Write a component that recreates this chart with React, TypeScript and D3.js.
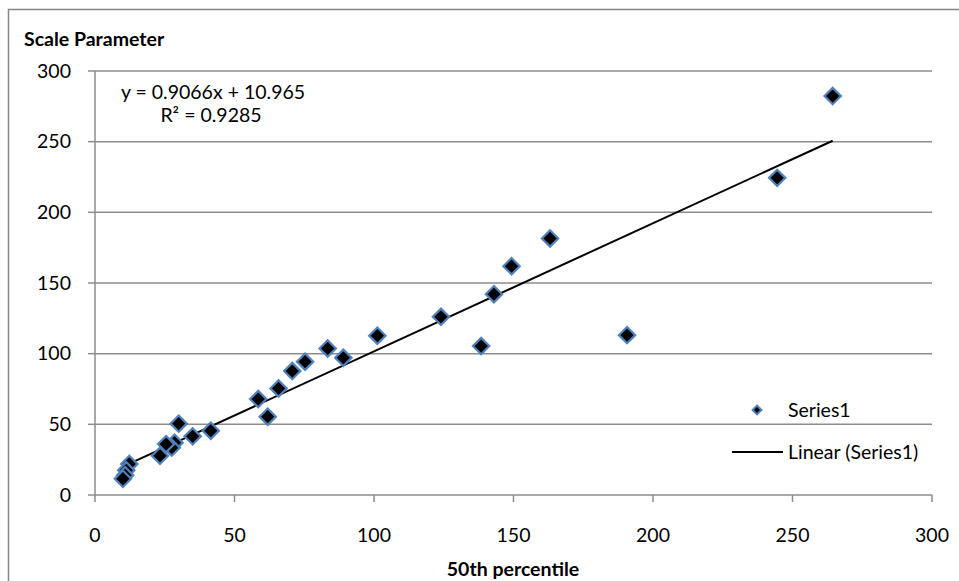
import React, { useEffect, useRef } from 'react';
import * as d3 from 'd3';

// 50th percentile vs. scale parameter
const pct50 = [264.4, 244.5, 190.7, 163.1, 149.3, 143.0, 138.4, 124.0, 101.2, 89.0, 83.4, 75.3, 70.7, 65.8, 61.9, 58.5, 41.5, 35.0, 30.0, 28.5, 27.5, 25.5, 23.3, 12.3, 11.2, 10.8, 10.0];
const scaleParam = [282.3, 224.4, 113.1, 181.5, 161.9, 142.1, 105.4, 126.1, 112.7, 97.1, 103.7, 94.3, 87.7, 75.4, 55.4, 67.9, 45.5, 41.5, 50.5, 37.0, 33.5, 36.0, 27.8, 22.0, 17.5, 14.0, 11.5];
const xTicks = [0, 50, 100, 150, 200, 250, 300];
const yTicks = [0, 50, 100, 150, 200, 250, 300];
const slope = 0.9066;
const intercept = 10.965;
const eqLabel = 'y = 0.9066x + 10.965';
const r2Label = 'R² = 0.9285';

const FONT = 'Lato, "Open Sans", sans-serif';
const FS = 19.5;
const GRID = '#8c8c8c';
const MARK_STROKE = '#4f81bd';

function App() {
  const ref = useRef<SVGSVGElement>(null);

  useEffect(() => {
    document.body.style.margin = '0';
    const svg = d3.select(ref.current);
    svg.selectAll('*').remove();

    const x = d3.scaleLinear().domain([0, 300]).range([95, 932]);
    const y = d3.scaleLinear().domain([0, 300]).range([495, 71]);

    // outer chart border
    svg.append('rect')
      .attr('x', 8.5).attr('y', 9.5).attr('width', 1000).attr('height', 1000)
      .attr('fill', 'white').attr('stroke', '#868686').attr('stroke-width', 1.5);

    // gridlines
    svg.append('g').selectAll('line').data(yTicks.filter(d => d > 0)).join('line')
      .attr('x1', x(0)).attr('x2', x(300))
      .attr('y1', d => y(d)).attr('y2', d => y(d))
      .attr('stroke', GRID).attr('stroke-width', 1.5);

    // y axis
    const yAxis = svg.append('g');
    yAxis.append('line').attr('x1', x(0)).attr('x2', x(0)).attr('y1', y(0)).attr('y2', y(300))
      .attr('stroke', GRID).attr('stroke-width', 1.5);
    yAxis.selectAll('line.tk').data(yTicks).join('line').attr('class', 'tk')
      .attr('x1', x(0) - 7).attr('x2', x(0)).attr('y1', d => y(d)).attr('y2', d => y(d))
      .attr('stroke', GRID).attr('stroke-width', 1.5);
    yAxis.selectAll('text').data(yTicks).join('text')
      .attr('x', 71).attr('y', d => y(d)).attr('dy', '0.35em')
      .attr('text-anchor', 'end').attr('font-family', FONT).attr('font-size', FS)
      .text(d => d);

    // x axis
    const xAxis = svg.append('g');
    xAxis.append('line').attr('x1', x(0)).attr('x2', x(300)).attr('y1', y(0)).attr('y2', y(0))
      .attr('stroke', GRID).attr('stroke-width', 1.5);
    xAxis.selectAll('line.tk').data(xTicks).join('line').attr('class', 'tk')
      .attr('x1', d => x(d)).attr('x2', d => x(d)).attr('y1', y(0)).attr('y2', y(0) + 7)
      .attr('stroke', GRID).attr('stroke-width', 1.5);
    xAxis.selectAll('text').data(xTicks).join('text')
      .attr('x', d => x(d)).attr('y', 535).attr('dy', '0.35em')
      .attr('text-anchor', 'middle').attr('font-family', FONT).attr('font-size', FS)
      .text(d => d);

    // titles
    svg.append('text').attr('x', 24).attr('y', 39).attr('dy', '0.35em')
      .attr('font-family', FONT).attr('font-weight', 'bold').attr('font-size', FS)
      .text('Scale Parameter');
    svg.append('text').attr('x', 513).attr('y', 569).attr('dy', '0.35em')
      .attr('text-anchor', 'middle')
      .attr('font-family', FONT).attr('font-weight', 'bold').attr('font-size', FS)
      .text('50th percentile');

    // trendline
    const ext = d3.extent(pct50) as [number, number];
    svg.append('path')
      .datum(ext)
      .attr('fill', 'none').attr('stroke', 'black').attr('stroke-width', 2)
      .attr('d', d3.line<number>().x(d => x(d)).y(d => y(slope * d + intercept)));

    // points
    const diamond = d3.symbol().type(d3.symbolDiamond2).size(170);
    svg.append('g').selectAll('path').data(pct50).join('path')
      .attr('transform', (d, i) => `translate(${x(d)},${y(scaleParam[i])})`)
      .attr('d', diamond())
      .attr('fill', 'black').attr('stroke', MARK_STROKE).attr('stroke-width', 2.2);

    // equation
    svg.append('text').attr('x', 213).attr('y', 92).attr('dy', '0.35em')
      .attr('text-anchor', 'middle').attr('font-family', FONT).attr('font-size', FS)
      .text(eqLabel);
    svg.append('text').attr('x', 211).attr('y', 115).attr('dy', '0.35em')
      .attr('text-anchor', 'middle').attr('font-family', FONT).attr('font-size', FS)
      .text(r2Label);

    // legend
    const lg = svg.append('g');
    lg.append('path')
      .attr('transform', 'translate(757,410)')
      .attr('d', d3.symbol().type(d3.symbolDiamond2).size(50)())
      .attr('fill', 'black').attr('stroke', MARK_STROKE).attr('stroke-width', 2);
    lg.append('text').attr('x', 788).attr('y', 410).attr('dy', '0.35em')
      .attr('font-family', FONT).attr('font-size', FS).text('Series1');
    lg.append('line').attr('x1', 732).attr('x2', 783).attr('y1', 452).attr('y2', 452)
      .attr('stroke', 'black').attr('stroke-width', 2);
    lg.append('text').attr('x', 788).attr('y', 452).attr('dy', '0.35em')
      .attr('font-family', FONT).attr('font-size', FS).text('Linear (Series1)');
  }, []);

  return <svg ref={ref} width={959} height={581} style={{ display: 'block' }}></svg>;
}

export default App;
